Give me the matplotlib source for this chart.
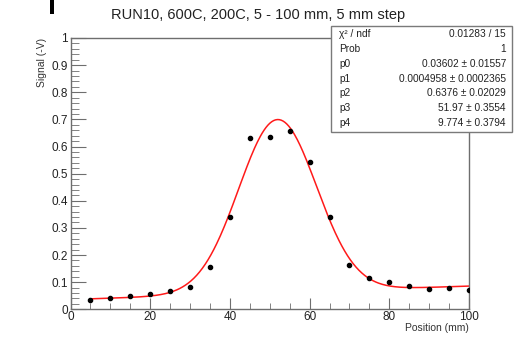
import numpy as np
import matplotlib
matplotlib.use("Agg")
import matplotlib.pyplot as plt
from matplotlib.ticker import MultipleLocator, FuncFormatter
from matplotlib.patches import Rectangle

plt.rcParams['font.family'] = ['Liberation Sans', 'DejaVu Sans']

# Scan positions (mm) and measured signal (-V)
position = [5, 10, 15, 20, 25, 30, 35, 40, 45, 50, 55, 60, 65, 70, 75, 80, 85, 90, 95, 100]
signal = [0.034, 0.040, 0.048, 0.055, 0.066, 0.083, 0.156, 0.342, 0.631, 0.635,
          0.658, 0.542, 0.341, 0.165, 0.116, 0.100, 0.086, 0.074, 0.080, 0.071]

# Fit: pol1 + gaus
fit_names = ["p0", "p1", "p2", "p3", "p4"]
fit_values = [0.03602, 0.0004958, 0.6376, 51.97, 9.774]
fit_errors = [0.01557, 0.0002365, 0.02029, 0.3554, 0.3794]
fit_value_text = ["0.03602", "0.0004958", "0.6376", "51.97", "9.774"]
fit_error_text = ["0.01557", "0.0002365", "0.02029", "0.3554", "0.3794"]
chi2_text = "0.01283 / 15"
prob_text = "1"

title = "RUN10, 600C, 200C, 5 - 100 mm, 5 mm step"
xlabel = "Position (mm)"
ylabel = "Signal (-V)"


def model(x, p):
    return p[0] + p[1] * x + p[2] * np.exp(-0.5 * ((x - p[3]) / p[4]) ** 2)


W, H = 517, 338
fig = plt.figure(figsize=(W / 100, H / 100), dpi=100)
fig.patch.set_facecolor("white")

L, R, T, B = 70.5, 469.0, 38.0, 309.3
ax = fig.add_axes([L / W, 1 - B / H, (R - L) / W, (B - T) / H])

xf = np.linspace(position[0], position[-1], 400)
ax.plot(xf, model(xf, fit_values), color="#ff1a1a", lw=1.1, zorder=2)
ax.plot(position, signal, "o", color="black", ms=3.0, zorder=3)

ax.set_xlim(0, 100)
ax.set_ylim(0, 1)

frame_col = "#6e6e6e"
for s in ax.spines.values():
    s.set_color(frame_col)
    s.set_linewidth(1.0)

ax.xaxis.set_major_locator(MultipleLocator(20))
ax.xaxis.set_minor_locator(MultipleLocator(5))
ax.yaxis.set_major_locator(MultipleLocator(0.1))
ax.yaxis.set_minor_locator(MultipleLocator(0.02))

ax.xaxis.set_major_formatter(FuncFormatter(lambda v, p: f"{v:g}"))
ax.yaxis.set_major_formatter(FuncFormatter(lambda v, p: f"{v:g}"))

ax.tick_params(axis="both", which="both", direction="in", color=frame_col,
               labelsize=8.5, labelcolor="#222222", top=False, right=False)
ax.tick_params(axis="x", which="major", length=8, pad=1)
ax.tick_params(axis="x", which="minor", length=4)
ax.tick_params(axis="y", which="major", length=11, pad=2)
ax.tick_params(axis="y", which="minor", length=5.5)

fig.text(258 / W, 1 - 15 / H, title, fontsize=10.5, color="#222222",
         ha="center", va="center")

ax.set_xlabel(xlabel, fontsize=7.5, color="#333333", loc="right", labelpad=0)
ax.set_ylabel(ylabel, fontsize=7.5, color="#333333", loc="top", labelpad=3)

# Statistics box
bx0, by0, bx1, by1 = 331, 26, 512, 132
fig.add_artist(Rectangle((bx0 / W, 1 - by1 / H), (bx1 - bx0) / W, (by1 - by0) / H,
                         transform=fig.transFigure, facecolor="white",
                         edgecolor="#7a7a7a", lw=1.0, zorder=5))
rows = [("\u03c7\u00b2 / ndf", chi2_text), ("Prob", prob_text)]
for n, v, e in zip(fit_names, fit_value_text, fit_error_text):
    rows.append((n, f"{v} \u00b1 {e}"))
row_y = np.linspace(34, 123, len(rows))
for (name, val), y in zip(rows, row_y):
    fig.text(339 / W, 1 - y / H, name, fontsize=7.3, color="#222222",
             ha="left", va="center", zorder=6)
    fig.text(506 / W, 1 - y / H, val, fontsize=7.3, color="#222222",
             ha="right", va="center", zorder=6)

# small dark mark at the top-left edge
fig.add_artist(Rectangle((49.5 / W, 1 - 14 / H), 4 / W, 14 / H,
                         transform=fig.transFigure, facecolor="black",
                         edgecolor="none"))

fig.savefig("out.png", dpi=100)
